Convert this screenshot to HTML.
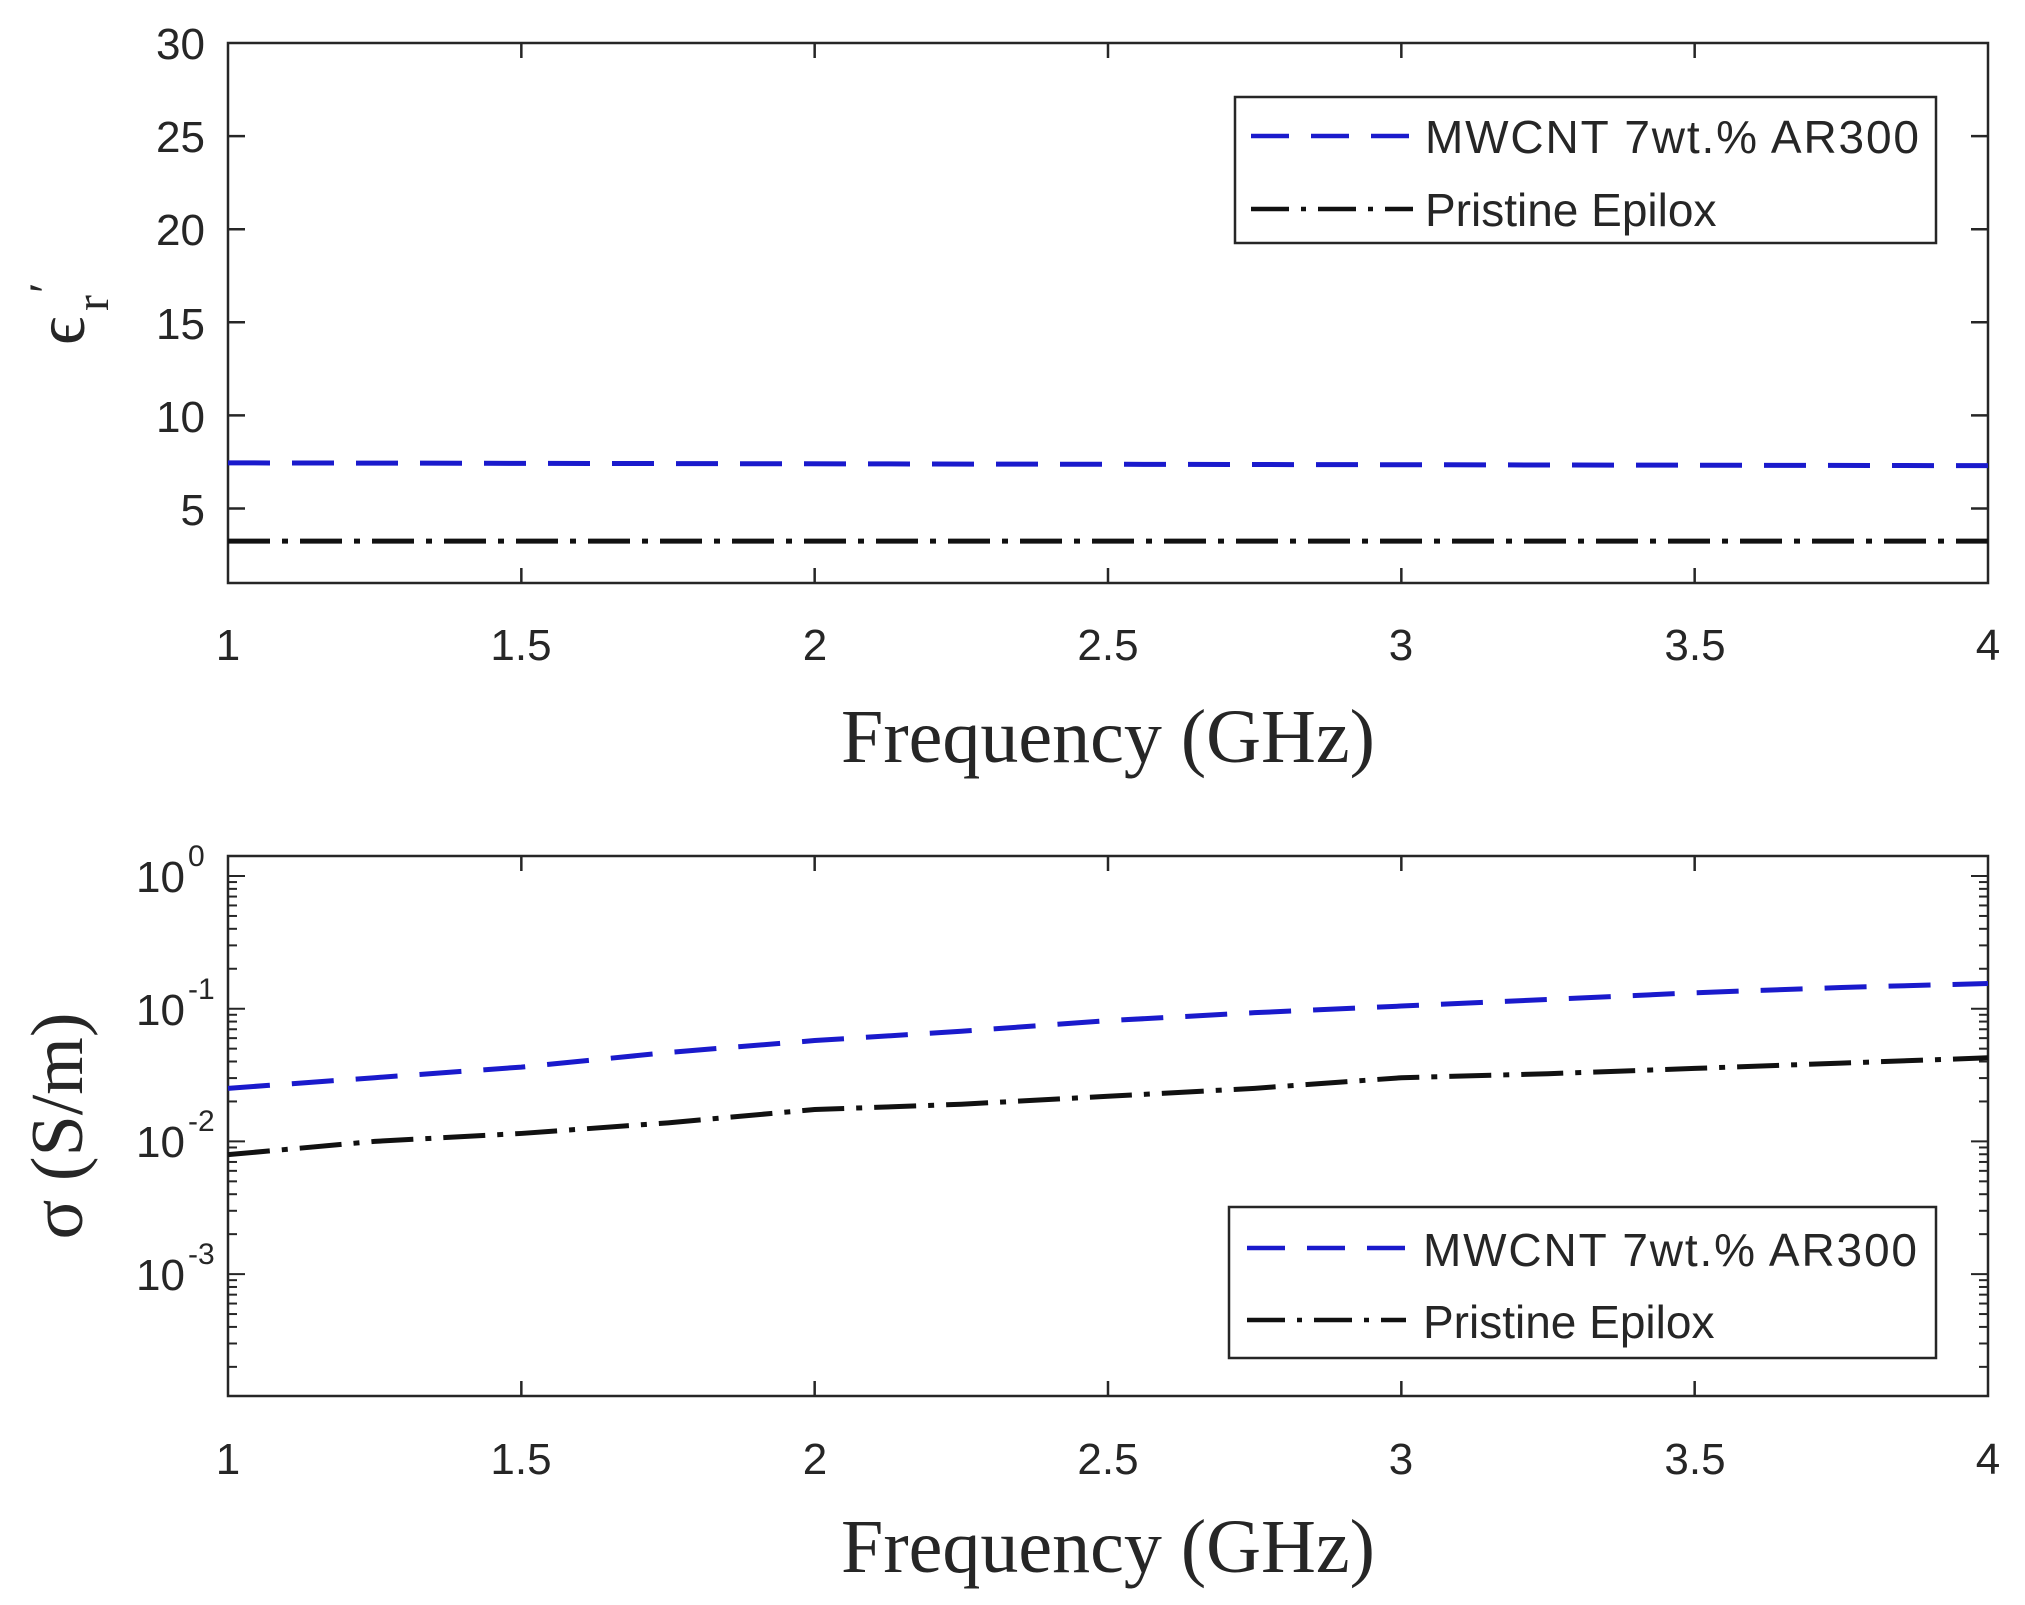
<!DOCTYPE html>
<html><head><meta charset="utf-8"><style>
html,body{margin:0;padding:0;background:#fff;}
svg{display:block;}
text{font-family:"Liberation Sans",sans-serif;fill:#262626;}
.serif{font-family:"Liberation Serif",serif;}
</style></head><body>
<svg id="s" width="2025" height="1605" viewBox="0 0 2025 1605" xmlns="http://www.w3.org/2000/svg">
<rect width="2025" height="1605" fill="#fff"/>
<g id="g"></g>
<g font-size="44">
<text x="205" y="59" text-anchor="end">30</text>
<text x="205" y="152" text-anchor="end">25</text>
<text x="205" y="245" text-anchor="end">20</text>
<text x="205" y="339" text-anchor="end">15</text>
<text x="205" y="432" text-anchor="end">10</text>
<text x="205" y="525" text-anchor="end">5</text>
</g>
<g font-size="44" text-anchor="middle">
<text x="228" y="660">1</text><text x="521" y="660">1.5</text><text x="815" y="660">2</text>
<text x="1108" y="660">2.5</text><text x="1401" y="660">3</text><text x="1695" y="660">3.5</text><text x="1988" y="660">4</text>
</g>
<text class="serif" x="1108" y="762" font-size="76" text-anchor="middle">Frequency (GHz)</text>
<g transform="translate(84,345) rotate(-90)"><text class="serif" font-size="70" x="0" y="0">ϵ</text><text class="serif" font-size="48" x="34" y="24">r</text><text class="serif" font-size="48" x="52" y="-22">′</text></g>
<g font-size="44" text-anchor="end">
<text x="185" y="892">10</text><text x="185" y="1025">10</text><text x="185" y="1157">10</text><text x="185" y="1290">10</text>
</g>
<g font-size="30">
<text x="188" y="866">0</text><text x="188" y="999">-1</text><text x="188" y="1131">-2</text><text x="188" y="1264">-3</text>
</g>
<g font-size="44" text-anchor="middle">
<text x="228" y="1474">1</text><text x="521" y="1474">1.5</text><text x="815" y="1474">2</text>
<text x="1108" y="1474">2.5</text><text x="1401" y="1474">3</text><text x="1695" y="1474">3.5</text><text x="1988" y="1474">4</text>
</g>
<text class="serif" x="1108" y="1572" font-size="76" text-anchor="middle">Frequency (GHz)</text>
<text class="serif" transform="translate(82,1126) rotate(-90)" font-size="74" text-anchor="middle">σ (S/m)</text>
<rect x="1235" y="97" width="701" height="146" fill="#fff" stroke="#262626" stroke-width="2.5"/>
<line x1="1251" y1="136" x2="1413" y2="136" stroke="#1a1acc" stroke-width="4.5" stroke-dasharray="38,22"/>
<line x1="1251" y1="209" x2="1413" y2="209" stroke="#111" stroke-width="4.5" stroke-dasharray="38,12,5,12"/>
<text x="1425" y="153" font-size="46" textLength="494" fill="#222">MWCNT 7wt.% AR300</text>
<text x="1425" y="226" font-size="46" fill="#222">Pristine Epilox</text>
<rect x="1229" y="1207" width="707" height="151" fill="#fff" stroke="#262626" stroke-width="2.5"/>
<line x1="1247" y1="1248" x2="1406" y2="1248" stroke="#1a1acc" stroke-width="4.5" stroke-dasharray="38,22"/>
<line x1="1247" y1="1320" x2="1406" y2="1320" stroke="#111" stroke-width="4.5" stroke-dasharray="38,12,5,12"/>
<text x="1423" y="1266" font-size="46" textLength="494" fill="#222">MWCNT 7wt.% AR300</text>
<text x="1423" y="1338" font-size="46" fill="#222">Pristine Epilox</text>
</svg>
<script>
var g=document.getElementById('g'),NS='http://www.w3.org/2000/svg';
function el(t,a){var e=document.createElementNS(NS,t);for(var k in a)e.setAttribute(k,a[k]);g.appendChild(e);return e;}
var XR=1988;
function X(f){return 228+(f-1)*(XR-228)/3;}
var T0=43,T1=583;function YT(v){return 43+(30-v)*18.62;}
el('rect',{x:228,y:T0,width:XR-228,height:T1-T0,fill:'none',stroke:'#262626','stroke-width':2.5});
for(var f=1.5;f<4;f+=0.5){el('line',{x1:X(f),x2:X(f),y1:T0,y2:T0+15,stroke:'#262626','stroke-width':2.5});el('line',{x1:X(f),x2:X(f),y1:T1,y2:T1-15,stroke:'#262626','stroke-width':2.5});}
for(var v=5;v<=25;v+=5){el('line',{x1:228,x2:245,y1:YT(v),y2:YT(v),stroke:'#262626','stroke-width':2.5});el('line',{x1:XR,x2:XR-17,y1:YT(v),y2:YT(v),stroke:'#262626','stroke-width':2.5});}
el('line',{x1:228,x2:XR,y1:YT(7.45),y2:YT(7.3),stroke:'#1a1acc','stroke-width':5,'stroke-dasharray':'42,22'});
el('line',{x1:228,x2:XR,y1:YT(3.25),y2:YT(3.25),stroke:'#111','stroke-width':5,'stroke-dasharray':'42,12,6,12'});
var B0=856,B1=1396;function YB(l){return 876-l*132.7;}
el('rect',{x:228,y:B0,width:XR-228,height:B1-B0,fill:'none',stroke:'#262626','stroke-width':2.5});
for(var f=1.5;f<4;f+=0.5){el('line',{x1:X(f),x2:X(f),y1:B0,y2:B0+15,stroke:'#262626','stroke-width':2.5});el('line',{x1:X(f),x2:X(f),y1:B1,y2:B1-15,stroke:'#262626','stroke-width':2.5});}
for(var d=-4;d<=0;d++){for(var k=1;k<=9;k++){var y=YB(d+Math.log10(k));if(y<B0||y>B1)continue;var L=k==1?17:9;
el('line',{x1:228,x2:228+L,y1:y,y2:y,stroke:'#262626','stroke-width':2});el('line',{x1:XR,x2:XR-L,y1:y,y2:y,stroke:'#262626','stroke-width':2});}}
var fs=[1,1.25,1.5,1.75,2,2.25,2.5,2.75,3,3.25,3.5,3.75,4];
var bl=[-1.6,-1.52,-1.44,-1.33,-1.24,-1.17,-1.09,-1.03,-0.98,-0.93,-0.88,-0.84,-0.81];
var bk=[-2.1,-2.0,-1.94,-1.86,-1.76,-1.72,-1.66,-1.6,-1.52,-1.49,-1.45,-1.41,-1.37];
function pts(a){return fs.map(function(f,i){return X(f)+','+YB(a[i]);}).join(' ');}
el('polyline',{points:pts(bl),fill:'none',stroke:'#1a1acc','stroke-width':5,'stroke-dasharray':'42,22'});
el('polyline',{points:pts(bk),fill:'none',stroke:'#111','stroke-width':5,'stroke-dasharray':'42,12,6,12'});
</script>
</body></html>
